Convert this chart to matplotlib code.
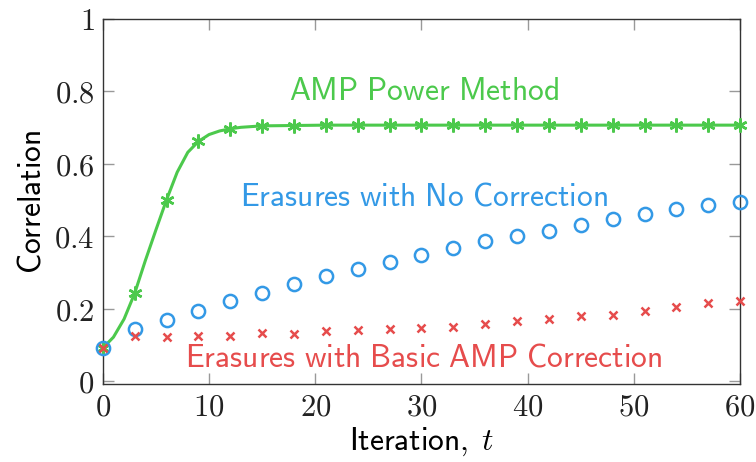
import numpy as np
import matplotlib
matplotlib.use("Agg")
import matplotlib.pyplot as plt

plt.rcParams['mathtext.fontset'] = 'cm'
plt.rcParams['font.family'] = ['Lato', 'DejaVu Sans']

# AMP power method: line read at each iteration up to the plateau, then every 3
green_t = [0, 1, 2, 3, 4, 5, 6, 7, 8, 9, 10, 11, 12, 13, 14, 15,
           18, 21, 24, 27, 30, 33, 36, 39, 42, 45, 48, 51, 54, 57, 60]
green_vals = [0.092, 0.122, 0.172, 0.243, 0.333, 0.418, 0.501, 0.577, 0.632, 0.662,
              0.681, 0.691, 0.697, 0.701, 0.703, 0.705,
              0.706, 0.707, 0.707, 0.707, 0.707, 0.707, 0.707, 0.707, 0.707,
              0.707, 0.707, 0.707, 0.707, 0.707, 0.707]

# marker iterations (every 3)
iters = list(range(0, 61, 3))

blue_vals = [0.092, 0.144, 0.168, 0.195, 0.223, 0.245, 0.269, 0.291, 0.310, 0.330, 0.349,
             0.369, 0.386, 0.402, 0.416, 0.432, 0.447, 0.461, 0.475, 0.486, 0.496]

red_vals = [0.092, 0.124, 0.122, 0.125, 0.126, 0.133, 0.130, 0.139, 0.142, 0.144, 0.146,
            0.151, 0.157, 0.167, 0.172, 0.180, 0.183, 0.195, 0.206, 0.215, 0.222]

green = '#4cc94c'
blue = '#3399e6'
red = '#e64c4c'

x_ticks = [0, 10, 20, 30, 40, 50, 60]
y_ticks = [0, 0.2, 0.4, 0.6, 0.8, 1.0]
y_labels = ['$0$', '$0.2$', '$0.4$', '$0.6$', '$0.8$', '$1$']


def sans(s):
    # computer modern sans via mathtext, spaces kept
    return r'$\mathsf{' + s.replace(' ', r'\ ') + '}$'


fig = plt.figure(figsize=(7.56, 4.62), dpi=100)
ax = fig.add_axes([0.136, 0.169, 0.843, 0.790])

ax.plot(green_t, green_vals, color=green, lw=2.2, zorder=3)
mark_vals = [v for t, v in zip(green_t, green_vals) if t % 3 == 0]
ax.plot(iters, mark_vals, ls='none', marker=(6, 2, 0), ms=10, mew=1.8,
        color=green, zorder=4, clip_on=False)
ax.plot(iters, blue_vals, ls='none', marker='o', ms=9.5, mew=1.8,
        mfc='none', mec=blue, zorder=4, clip_on=False)
ax.plot(iters, red_vals, ls='none', marker='x', ms=6, mew=1.8,
        color=red, zorder=5, clip_on=False)

fs = 22.7
ax.text(30.2, 0.80, sans('AMP Power Method'), color=green, fontsize=fs,
        ha='center', va='center')
ax.text(30.2, 0.51, sans('Erasures with No Correction'), color=blue, fontsize=fs,
        ha='center', va='center')
ax.text(30.2, 0.067, sans('Erasures with Basic AMP Correction'), color=red, fontsize=fs,
        ha='center', va='center')

ax.set_xlim(0, 60)
ax.set_ylim(-0.007, 1.0)
ax.set_xticks(x_ticks)
ax.set_xticklabels(['$%d$' % t for t in x_ticks])
ax.set_yticks(y_ticks)
ax.set_yticklabels(y_labels)
ax.tick_params(direction='in', length=8, width=1.0, color='#999999',
               labelsize=22, labelcolor='#222222', top=True, right=True, pad=6)

for s in ax.spines.values():
    s.set_color('#333333')
    s.set_linewidth(1.0)

ax.set_xlabel(r'$\mathsf{Iteration,}\;t$', fontsize=fs, labelpad=4)
ax.set_ylabel(sans('Correlation'), fontsize=fs, labelpad=6)

fig.savefig('out.png', dpi=100)
